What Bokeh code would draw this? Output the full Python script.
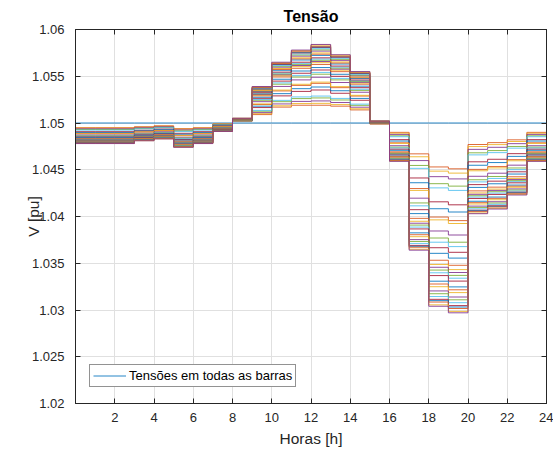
from bokeh.plotting import figure
from bokeh.models import (FixedTicker, CustomJSTickFormatter, LinearAxis, Range1d,
                          Legend, LegendItem)
from bokeh.embed import file_html
from bokeh.resources import INLINE

# Hour edges of the stair plot (0..24 h)
horas = [0, 1, 2, 3, 4, 5, 6, 7, 8, 9, 10, 11, 12, 13, 14, 15, 16, 17, 18, 19, 20, 21, 22, 23, 24]
x_ticks = [2, 4, 6, 8, 10, 12, 14, 16, 18, 20, 22, 24]
y_ticks = [1.02, 1.025, 1.03, 1.035, 1.04, 1.045, 1.05, 1.055, 1.06]

# Reference (slack) bus voltage for each hour
v_slack = [1.05, 1.05, 1.05, 1.05, 1.05, 1.05, 1.05, 1.05, 1.05, 1.05, 1.05, 1.05,
           1.05, 1.05, 1.05, 1.05, 1.05, 1.05, 1.05, 1.05, 1.05, 1.05, 1.05, 1.05]

# Voltage of each of the other buses, one list per hour (same bus order in every list)
v_h00 = [1.04950, 1.04945, 1.04938, 1.04930, 1.04924, 1.04907, 1.04899, 1.04889, 1.04885, 1.04872, 1.04863, 1.04858, 1.04851, 1.04845, 1.04836, 1.04831, 1.04828, 1.04824, 1.04821, 1.04817, 1.04811, 1.04807, 1.04804, 1.04799, 1.04795, 1.04792, 1.04788, 1.04787, 1.04785, 1.04782, 1.04780]
v_h01 = [1.04950, 1.04945, 1.04938, 1.04930, 1.04924, 1.04907, 1.04899, 1.04889, 1.04885, 1.04872, 1.04863, 1.04858, 1.04851, 1.04845, 1.04836, 1.04831, 1.04828, 1.04824, 1.04821, 1.04817, 1.04811, 1.04807, 1.04804, 1.04799, 1.04795, 1.04792, 1.04788, 1.04787, 1.04785, 1.04782, 1.04780]
v_h02 = [1.04950, 1.04945, 1.04938, 1.04930, 1.04924, 1.04907, 1.04899, 1.04889, 1.04885, 1.04872, 1.04863, 1.04858, 1.04851, 1.04845, 1.04836, 1.04831, 1.04828, 1.04824, 1.04821, 1.04817, 1.04811, 1.04807, 1.04804, 1.04799, 1.04795, 1.04792, 1.04788, 1.04787, 1.04785, 1.04782, 1.04780]
v_h03 = [1.04960, 1.04955, 1.04949, 1.04942, 1.04937, 1.04922, 1.04915, 1.04906, 1.04903, 1.04891, 1.04883, 1.04879, 1.04873, 1.04867, 1.04859, 1.04855, 1.04852, 1.04849, 1.04846, 1.04843, 1.04837, 1.04834, 1.04831, 1.04826, 1.04823, 1.04820, 1.04817, 1.04816, 1.04814, 1.04811, 1.04810]
v_h04 = [1.04970, 1.04966, 1.04960, 1.04953, 1.04949, 1.04935, 1.04928, 1.04920, 1.04917, 1.04906, 1.04899, 1.04894, 1.04889, 1.04883, 1.04876, 1.04872, 1.04869, 1.04866, 1.04864, 1.04861, 1.04855, 1.04852, 1.04850, 1.04845, 1.04843, 1.04840, 1.04837, 1.04836, 1.04834, 1.04831, 1.04830]
v_h05 = [1.04940, 1.04934, 1.04926, 1.04916, 1.04910, 1.04890, 1.04880, 1.04868, 1.04864, 1.04848, 1.04838, 1.04832, 1.04824, 1.04816, 1.04806, 1.04800, 1.04796, 1.04792, 1.04788, 1.04784, 1.04776, 1.04772, 1.04768, 1.04762, 1.04758, 1.04754, 1.04750, 1.04748, 1.04746, 1.04742, 1.04740]
v_h06 = [1.04950, 1.04945, 1.04938, 1.04930, 1.04924, 1.04907, 1.04899, 1.04889, 1.04885, 1.04872, 1.04863, 1.04858, 1.04851, 1.04845, 1.04836, 1.04831, 1.04828, 1.04824, 1.04821, 1.04817, 1.04811, 1.04807, 1.04804, 1.04799, 1.04795, 1.04792, 1.04788, 1.04787, 1.04785, 1.04782, 1.04780]
v_h07 = [1.04990, 1.04988, 1.04984, 1.04980, 1.04978, 1.04970, 1.04966, 1.04961, 1.04960, 1.04953, 1.04949, 1.04947, 1.04944, 1.04940, 1.04936, 1.04934, 1.04932, 1.04931, 1.04929, 1.04928, 1.04924, 1.04923, 1.04921, 1.04919, 1.04917, 1.04916, 1.04914, 1.04913, 1.04912, 1.04911, 1.04910]
v_h08 = [1.05020, 1.05021, 1.05022, 1.05024, 1.05025, 1.05028, 1.05029, 1.05031, 1.05031, 1.05034, 1.05035, 1.05036, 1.05037, 1.05039, 1.05040, 1.05041, 1.05042, 1.05042, 1.05043, 1.05043, 1.05045, 1.05045, 1.05046, 1.05047, 1.05047, 1.05048, 1.05049, 1.05049, 1.05049, 1.05050, 1.05050]
v_h09 = [1.05090, 1.05099, 1.05111, 1.05126, 1.05135, 1.05165, 1.05180, 1.05198, 1.05204, 1.05228, 1.05243, 1.05252, 1.05264, 1.05276, 1.05291, 1.05300, 1.05306, 1.05312, 1.05318, 1.05324, 1.05336, 1.05342, 1.05348, 1.05357, 1.05363, 1.05369, 1.05375, 1.05378, 1.05381, 1.05387, 1.05390]
v_h10 = [1.05170, 1.05184, 1.05204, 1.05228, 1.05242, 1.05290, 1.05314, 1.05343, 1.05352, 1.05391, 1.05415, 1.05429, 1.05448, 1.05468, 1.05492, 1.05506, 1.05516, 1.05525, 1.05535, 1.05544, 1.05564, 1.05573, 1.05583, 1.05597, 1.05607, 1.05616, 1.05626, 1.05631, 1.05636, 1.05645, 1.05650]
v_h11 = [1.05190, 1.05208, 1.05231, 1.05261, 1.05279, 1.05338, 1.05367, 1.05402, 1.05414, 1.05461, 1.05491, 1.05509, 1.05532, 1.05556, 1.05585, 1.05603, 1.05615, 1.05627, 1.05638, 1.05650, 1.05674, 1.05686, 1.05697, 1.05715, 1.05727, 1.05739, 1.05750, 1.05756, 1.05762, 1.05774, 1.05780]
v_h12 = [1.05190, 1.05210, 1.05236, 1.05268, 1.05288, 1.05353, 1.05385, 1.05424, 1.05437, 1.05489, 1.05522, 1.05541, 1.05567, 1.05593, 1.05626, 1.05645, 1.05658, 1.05671, 1.05684, 1.05697, 1.05723, 1.05736, 1.05749, 1.05769, 1.05782, 1.05795, 1.05808, 1.05814, 1.05821, 1.05834, 1.05840]
v_h13 = [1.05180, 1.05197, 1.05219, 1.05246, 1.05263, 1.05318, 1.05345, 1.05378, 1.05389, 1.05433, 1.05461, 1.05477, 1.05499, 1.05521, 1.05549, 1.05565, 1.05576, 1.05587, 1.05598, 1.05609, 1.05631, 1.05642, 1.05653, 1.05670, 1.05681, 1.05692, 1.05703, 1.05708, 1.05714, 1.05725, 1.05730]
v_h14 = [1.05140, 1.05152, 1.05169, 1.05189, 1.05202, 1.05243, 1.05263, 1.05288, 1.05296, 1.05329, 1.05349, 1.05361, 1.05378, 1.05394, 1.05415, 1.05427, 1.05435, 1.05443, 1.05452, 1.05460, 1.05476, 1.05484, 1.05493, 1.05505, 1.05513, 1.05521, 1.05530, 1.05534, 1.05538, 1.05546, 1.05550]
v_h15 = [1.04990, 1.04991, 1.04992, 1.04994, 1.04995, 1.04998, 1.04999, 1.05001, 1.05001, 1.05004, 1.05005, 1.05006, 1.05007, 1.05009, 1.05010, 1.05011, 1.05012, 1.05012, 1.05013, 1.05013, 1.05015, 1.05015, 1.05016, 1.05017, 1.05017, 1.05018, 1.05019, 1.05019, 1.05019, 1.05020, 1.05020]
v_h16 = [1.04900, 1.04891, 1.04878, 1.04863, 1.04853, 1.04822, 1.04807, 1.04788, 1.04782, 1.04757, 1.04742, 1.04733, 1.04720, 1.04708, 1.04692, 1.04683, 1.04677, 1.04671, 1.04664, 1.04658, 1.04646, 1.04640, 1.04633, 1.04624, 1.04618, 1.04612, 1.04605, 1.04602, 1.04599, 1.04593, 1.04590]
v_h17 = [1.04670, 1.04639, 1.04598, 1.04546, 1.04515, 1.04412, 1.04361, 1.04299, 1.04279, 1.04196, 1.04145, 1.04114, 1.04073, 1.04031, 1.03980, 1.03949, 1.03928, 1.03908, 1.03887, 1.03867, 1.03825, 1.03805, 1.03784, 1.03753, 1.03733, 1.03712, 1.03691, 1.03681, 1.03671, 1.03650, 1.03640]
v_h18 = [1.04530, 1.04485, 1.04426, 1.04351, 1.04306, 1.04157, 1.04083, 1.03994, 1.03964, 1.03845, 1.03770, 1.03725, 1.03666, 1.03606, 1.03532, 1.03487, 1.03457, 1.03427, 1.03398, 1.03368, 1.03308, 1.03278, 1.03249, 1.03204, 1.03174, 1.03144, 1.03114, 1.03100, 1.03085, 1.03055, 1.03040]
v_h19 = [1.04510, 1.04464, 1.04402, 1.04325, 1.04279, 1.04125, 1.04048, 1.03956, 1.03925, 1.03802, 1.03725, 1.03678, 1.03617, 1.03555, 1.03478, 1.03432, 1.03401, 1.03370, 1.03340, 1.03309, 1.03247, 1.03216, 1.03186, 1.03139, 1.03109, 1.03078, 1.03047, 1.03032, 1.03016, 1.02985, 1.02970]
v_h20 = [1.04770, 1.04748, 1.04718, 1.04681, 1.04659, 1.04585, 1.04548, 1.04504, 1.04489, 1.04430, 1.04393, 1.04370, 1.04341, 1.04311, 1.04274, 1.04252, 1.04237, 1.04222, 1.04208, 1.04193, 1.04163, 1.04148, 1.04134, 1.04111, 1.04097, 1.04082, 1.04067, 1.04060, 1.04052, 1.04037, 1.04030]
v_h21 = [1.04790, 1.04769, 1.04740, 1.04705, 1.04683, 1.04612, 1.04577, 1.04534, 1.04520, 1.04463, 1.04428, 1.04407, 1.04378, 1.04350, 1.04314, 1.04293, 1.04279, 1.04265, 1.04250, 1.04236, 1.04208, 1.04194, 1.04179, 1.04158, 1.04144, 1.04130, 1.04115, 1.04108, 1.04101, 1.04087, 1.04080]
v_h22 = [1.04820, 1.04802, 1.04779, 1.04749, 1.04731, 1.04672, 1.04643, 1.04608, 1.04596, 1.04549, 1.04519, 1.04501, 1.04478, 1.04454, 1.04425, 1.04407, 1.04395, 1.04383, 1.04372, 1.04360, 1.04336, 1.04324, 1.04313, 1.04295, 1.04283, 1.04271, 1.04260, 1.04254, 1.04248, 1.04236, 1.04230]
v_h23 = [1.04900, 1.04891, 1.04878, 1.04863, 1.04853, 1.04822, 1.04807, 1.04788, 1.04782, 1.04757, 1.04742, 1.04733, 1.04720, 1.04708, 1.04692, 1.04683, 1.04677, 1.04671, 1.04664, 1.04658, 1.04646, 1.04640, 1.04633, 1.04624, 1.04618, 1.04612, 1.04605, 1.04602, 1.04599, 1.04593, 1.04590]

colunas = [v_h00, v_h01, v_h02, v_h03, v_h04, v_h05, v_h06, v_h07, v_h08, v_h09, v_h10, v_h11,
           v_h12, v_h13, v_h14, v_h15, v_h16, v_h17, v_h18, v_h19, v_h20, v_h21, v_h22, v_h23]

cores = ["#0072BD", "#D95319", "#EDB120", "#7E2F8E", "#77AC30", "#4DBEEE", "#A2142F"]

FONT = "Liberation Sans"
TXT = "#262626"

p = figure(width=553, height=449, x_range=Range1d(0, 24), y_range=Range1d(1.02, 1.06),
           output_backend="svg", toolbar_location=None, title="Tensão",
           min_border_left=75, min_border_right=7, min_border_top=29, min_border_bottom=45)

p.title.align = "center"
p.title.text_font = FONT
p.title.text_font_size = "16px"
p.title.text_font_style = "bold"
p.title.text_color = "black"

p.outline_line_color = TXT
p.outline_line_width = 1
p.background_fill_color = "white"

p.xaxis.ticker = FixedTicker(ticks=x_ticks)
p.yaxis.ticker = FixedTicker(ticks=y_ticks)
p.yaxis.formatter = CustomJSTickFormatter(code="return tick.toFixed(3).replace(/0+$/, '').replace(/\\.$/, '');")
p.xgrid.ticker = FixedTicker(ticks=x_ticks)
p.ygrid.ticker = FixedTicker(ticks=y_ticks)
for g in (p.xgrid, p.ygrid):
    g.grid_line_color = "#e0e0e0"
    g.grid_line_width = 1

for ax in (p.xaxis, p.yaxis):
    ax.axis_line_color = TXT
    ax.major_tick_line_color = TXT
    ax.major_tick_in = 5
    ax.major_tick_out = 0
    ax.minor_tick_line_color = None
    ax.major_label_text_font = FONT
    ax.major_label_text_font_size = "13px"
    ax.major_label_text_color = TXT
    ax.axis_label_text_font = FONT
    ax.axis_label_text_font_size = "15.5px"
    ax.axis_label_text_font_style = "normal"
    ax.axis_label_text_color = TXT

p.xaxis.axis_label = "Horas [h]"
p.yaxis.axis_label = "V [pu]"
p.xaxis.major_label_standoff = 9
p.xaxis.axis_label_standoff = 5
p.yaxis.major_label_standoff = 11
p.yaxis.axis_label_standoff = -13

# box ticks on top and right (no labels drawn)
top = LinearAxis(ticker=FixedTicker(ticks=x_ticks), major_label_text_font_size="0px",
                 major_label_text_color=None, major_tick_in=5, major_tick_out=0,
                 minor_tick_line_color=None, axis_line_color=TXT,
                 major_tick_line_color=TXT, major_label_standoff=0)
right = LinearAxis(ticker=FixedTicker(ticks=y_ticks), major_label_text_font_size="0px",
                   major_label_text_color=None, major_tick_in=5, major_tick_out=0,
                   minor_tick_line_color=None, axis_line_color=TXT,
                   major_tick_line_color=TXT, major_label_standoff=0)
p.add_layout(top, "above")
p.add_layout(right, "right")

r_slack = p.step(horas, v_slack + [v_slack[-1]], mode="after", line_color=cores[0],
                 line_width=1, line_alpha=0.85)

for k in range(len(v_h00)):
    serie = [col[k] for col in colunas]
    p.step(horas, serie + [serie[-1]], mode="after", line_color=cores[(k + 1) % 7],
           line_width=1, line_alpha=0.85)

legend = Legend(items=[LegendItem(label="Tensões em todas as barras", renderers=[r_slack])],
                location=(14, 16))
legend.border_line_color = TXT
legend.border_line_width = 1
legend.background_fill_color = "white"
legend.background_fill_alpha = 1
legend.label_text_font = FONT
legend.label_text_font_size = "13px"
legend.label_text_color = "black"
legend.glyph_width = 33
legend.glyph_height = 15
legend.label_height = 15
legend.padding = 3
legend.margin = 0
legend.spacing = 0
legend.label_standoff = 3
p.add_layout(legend)

open("out.html", "w").write(file_html(p, INLINE))
